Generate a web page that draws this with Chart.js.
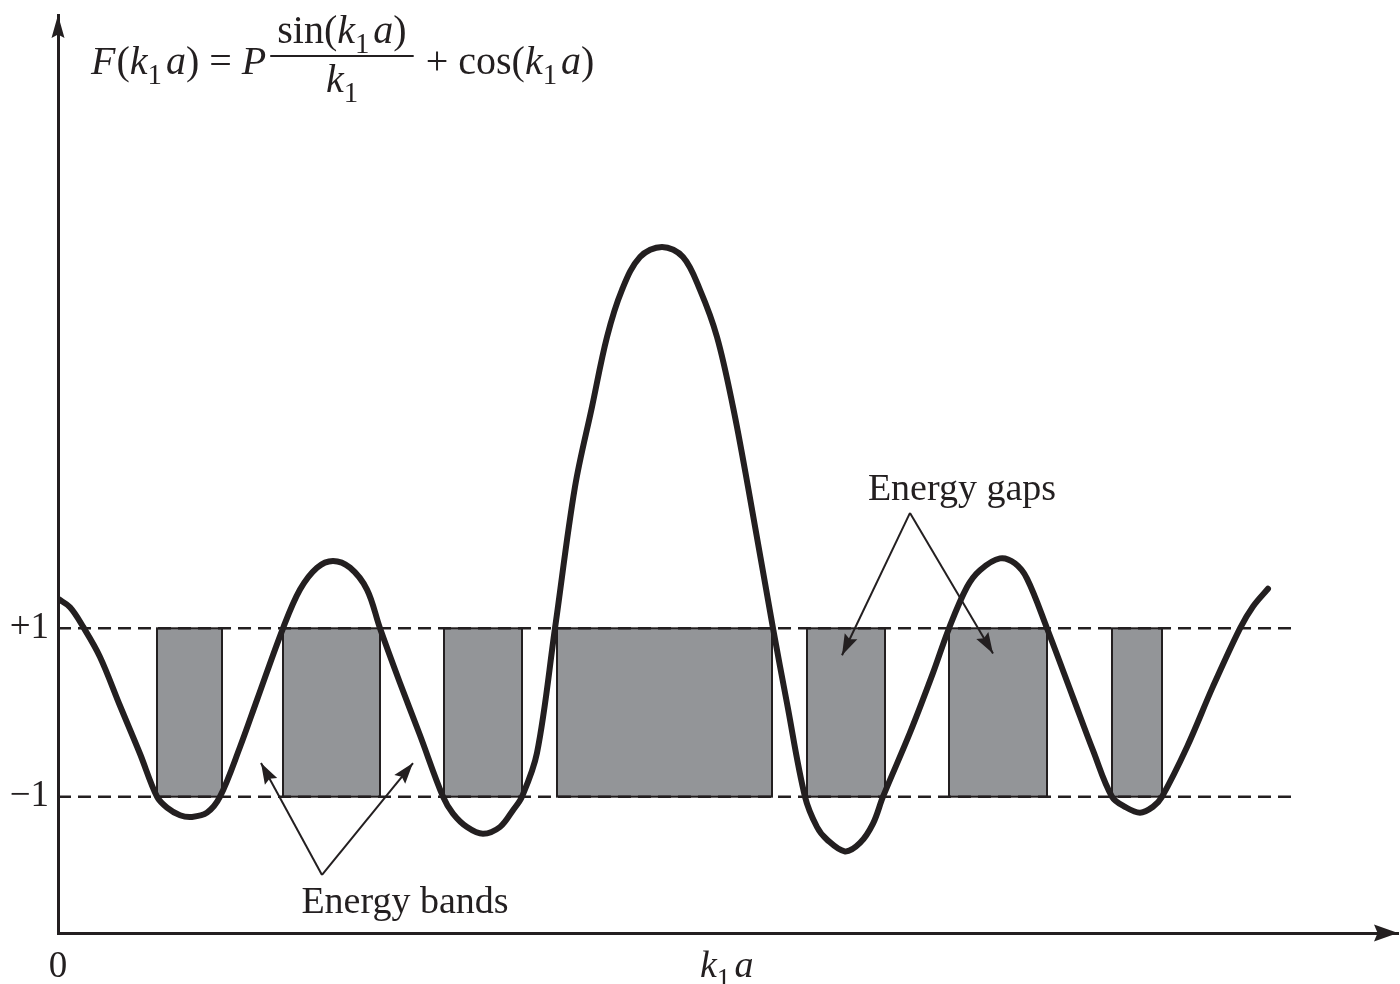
<!DOCTYPE html>
<html>
<head>
<meta charset="utf-8">
<script src="https://cdn.jsdelivr.net/npm/chart.js@4/dist/chart.umd.min.js"></script>
<style>
html, body { margin: 0; padding: 0; background: #fff; }
#bandas { display: block; }
</style>
</head>
<body>
<canvas id="bandas" width="1400" height="984"></canvas>
<script>
// curva F(k1a) (k1a em unidades arbitrarias)
var k1a = [0.00, 0.12, 0.25, 0.42, 0.62, 0.82, 0.99, 1.09, 1.22, 1.34, 1.49, 1.62, 1.82, 1.99,
  2.25, 2.42, 2.59, 2.75, 2.92, 3.09, 3.22, 3.42, 3.62, 3.85, 3.95, 4.09, 4.25, 4.42, 4.55,
  4.64, 4.79, 4.97, 5.17, 5.34, 5.49, 5.64, 5.82, 6.04, 6.25, 6.42, 6.59, 6.75, 6.90, 7.15,
  7.29, 7.47, 7.59, 7.69, 7.87, 8.02, 8.15, 8.25, 8.52, 8.75, 8.91, 9.09, 9.22, 9.42, 9.57,
  9.69, 9.89, 10.15, 10.35, 10.54, 10.67, 10.82, 10.95, 11.04, 11.29, 11.55, 11.82, 11.95, 12.10];
var Fk = [1.35, 1.25, 1.02, 0.66, 0.08, -0.49, -1.00, -1.13, -1.22, -1.24, -1.19, -1.00, -0.41, 0.15,
  1.00, 1.46, 1.72, 1.80, 1.72, 1.46, 1.00, 0.35, -0.27, -1.00, -1.20, -1.36, -1.44, -1.36, -1.16,
  -1.00, -0.48, 1.00, 2.68, 3.63, 4.46, 5.02, 5.41, 5.53, 5.41, 5.02, 4.46, 3.63, 2.68, 1.00,
  0.11, -1.00, -1.36, -1.51, -1.65, -1.55, -1.32, -1.00, -0.24, 0.47, 1.00, 1.49, 1.69, 1.83, 1.77,
  1.59, 1.00, 0.18, -0.45, -1.00, -1.12, -1.19, -1.12, -1.00, -0.41, 0.31, 1.00, 1.26, 1.47];

// faixas cinza entre -1 e +1
var faixaIni = [0.99, 2.25, 3.86, 4.99, 7.49, 8.91, 10.54];
var faixaFim = [1.64, 3.22, 4.64, 7.14, 8.27, 9.89, 11.04];

// linhas tracejadas e rotulos
var niveis = [1, -1];
var rotulosY = ['+1', '\u22121'];
var fimTracejado = 12.34;

var INK = '#231f20';
var SERIF = '"Liberation Serif", "Times New Roman", serif';

var curva = k1a.map(function (x, i) { return { x: x, y: Fk[i] }; });

function cabeca(ctx, tx, ty, fx, fy, len, half) {
  var a = Math.atan2(ty - fy, tx - fx);
  var c = Math.cos(a), s = Math.sin(a);
  var bx = tx - c * len, by = ty - s * len;
  var nx = tx - c * len * 0.85, ny = ty - s * len * 0.85;
  ctx.beginPath();
  ctx.moveTo(tx, ty);
  ctx.lineTo(bx - s * half, by + c * half);
  ctx.lineTo(nx, ny);
  ctx.lineTo(bx + s * half, by - c * half);
  ctx.closePath();
  ctx.fill();
}

function seta(ctx, x0, y0, x1, y1) {
  ctx.beginPath();
  ctx.moveTo(x0, y0);
  ctx.lineTo(x1, y1);
  ctx.stroke();
  cabeca(ctx, x1, y1, x0, y0, 21, 7);
}

function escreve(ctx, partes, x, y, size) {
  partes.forEach(function (p) {
    var s = p.sub ? size * 0.72 : size;
    ctx.font = (p.i ? 'italic ' : '') + s + 'px ' + SERIF;
    ctx.fillText(p.t, x, y + (p.sub ? size * 0.25 : 0));
    x += ctx.measureText(p.t).width + (p.sp || 0);
  });
  return x;
}

function largura(ctx, partes, size) {
  var w = 0;
  partes.forEach(function (p) {
    var s = p.sub ? size * 0.72 : size;
    ctx.font = (p.i ? 'italic ' : '') + s + 'px ' + SERIF;
    w += ctx.measureText(p.t).width + (p.sp || 0);
  });
  return w;
}

var desenhos = {
  id: 'desenhos',
  beforeDatasetsDraw: function (chart) {
    var ctx = chart.ctx, sx = chart.scales.x, sy = chart.scales.y;
    ctx.save();
    ctx.fillStyle = '#939598';
    ctx.strokeStyle = INK;
    ctx.lineWidth = 2;
    for (var i = 0; i < faixaIni.length; i++) {
      var x0 = sx.getPixelForValue(faixaIni[i]), x1 = sx.getPixelForValue(faixaFim[i]);
      var y0 = sy.getPixelForValue(1), y1 = sy.getPixelForValue(-1);
      ctx.fillRect(x0, y0, x1 - x0, y1 - y0);
      ctx.strokeRect(x0, y0, x1 - x0, y1 - y0);
    }
    ctx.restore();
  },
  afterDraw: function (chart) {
    var ctx = chart.ctx, sx = chart.scales.x, sy = chart.scales.y, ca = chart.chartArea;
    ctx.save();
    ctx.fillStyle = INK;
    ctx.strokeStyle = INK;
    // pontas dos eixos
    cabeca(ctx, ca.right, ca.bottom, ca.left, ca.bottom, 24, 8.5);
    cabeca(ctx, ca.left, ca.top, ca.left, ca.bottom, 23, 6.5);

    // setas das legendas
    ctx.lineWidth = 2;
    var px = function (v) { return sx.getPixelForValue(v); };
    var py = function (v) { return sy.getPixelForValue(v); };
    seta(ctx, px(8.52), py(2.37), px(7.84), py(0.68));
    seta(ctx, px(8.52), py(2.37), px(9.35), py(0.70));
    seta(ctx, px(2.64), py(-1.93), px(2.03), py(-0.60));
    seta(ctx, px(2.64), py(-1.93), px(3.55), py(-0.60));

    ctx.textBaseline = 'alphabetic';
    ctx.textAlign = 'center';
    ctx.font = '38px ' + SERIF;
    ctx.fillText('Energy gaps', px(9.04), py(2.52));
    ctx.fillText('Energy bands', px(3.47), py(-2.38));

    // rotulo do eixo x
    ctx.textAlign = 'left';
    escreve(ctx, [{ t: 'k', i: true }, { t: '1', sub: true, sp: 4 }, { t: 'a', i: true }], 700, 977, 38);

    // formula
    var fs = 40;
    var x = escreve(ctx, [
      { t: 'F', i: true, sp: 1 }, { t: '(' }, { t: 'k', i: true }, { t: '1', sub: true, sp: 4 },
      { t: 'a', i: true }, { t: ') = ' }, { t: 'P', i: true }
    ], 91, 74, fs);
    var num = [{ t: 'sin(' }, { t: 'k', i: true }, { t: '1', sub: true, sp: 4 }, { t: 'a', i: true }, { t: ')' }];
    var den = [{ t: 'k', i: true }, { t: '1', sub: true }];
    var wn = largura(ctx, num, fs);
    var b0 = x + 4, b1 = b0 + wn + 14, cx = (b0 + b1) / 2;
    ctx.lineWidth = 2;
    ctx.beginPath();
    ctx.moveTo(b0, 56);
    ctx.lineTo(b1, 56);
    ctx.stroke();
    escreve(ctx, num, cx - wn / 2, 43, fs);
    escreve(ctx, den, cx - largura(ctx, den, fs) / 2, 92, fs);
    escreve(ctx, [{ t: ' + cos(' }, { t: 'k', i: true }, { t: '1', sub: true, sp: 4 }, { t: 'a', i: true }, { t: ')' }], b1 + 2, 74, fs);
    ctx.restore();
  }
};

function semFolga(s) {
  s.paddingTop = 0; s.paddingBottom = 0; s.paddingLeft = 0; s.paddingRight = 0;
}

new Chart(document.getElementById('bandas'), {
  type: 'line',
  data: {
    datasets: [{
      data: curva,
      borderColor: INK,
      borderWidth: 6,
      borderCapStyle: 'round',
      borderJoinStyle: 'round',
      pointRadius: 0,
      tension: 0.35,
      fill: false
    }, {
      data: [{ x: 0, y: niveis[0] }, { x: fimTracejado, y: niveis[0] }],
      borderColor: INK,
      borderWidth: 2.5,
      borderDash: [13, 7],
      pointRadius: 0
    }, {
      data: [{ x: 0, y: niveis[1] }, { x: fimTracejado, y: niveis[1] }],
      borderColor: INK,
      borderWidth: 2.5,
      borderDash: [13, 7],
      pointRadius: 0
    }]
  },
  options: {
    responsive: false,
    animation: false,
    devicePixelRatio: 1,
    layout: { padding: { left: 0, top: 15, right: 2, bottom: 0 } },
    plugins: { legend: { display: false }, tooltip: { enabled: false } },
    scales: {
      x: {
        type: 'linear',
        min: 0,
        max: 13.4,
        afterFit: function (s) { s.height = 51; semFolga(s); },
        afterBuildTicks: function (s) { s.ticks = [{ value: 0 }]; },
        grid: { display: false, drawTicks: false },
        border: { display: true, color: INK, width: 3 },
        ticks: { color: INK, padding: 12, font: { family: SERIF, size: 37 }, maxRotation: 0 }
      },
      y: {
        type: 'linear',
        min: -2.619,
        max: 8.284,
        afterFit: function (s) { s.width = 58; semFolga(s); },
        afterBuildTicks: function (s) { s.ticks = niveis.map(function (v) { return { value: v }; }); },
        grid: { display: false, drawTicks: false },
        border: { display: true, color: INK, width: 3 },
        ticks: {
          color: INK,
          padding: 9,
          font: { family: SERIF, size: 37 },
          callback: function (v) { return rotulosY[niveis.indexOf(v)]; }
        }
      }
    }
  },
  plugins: [desenhos]
});
</script>
</body>
</html>
